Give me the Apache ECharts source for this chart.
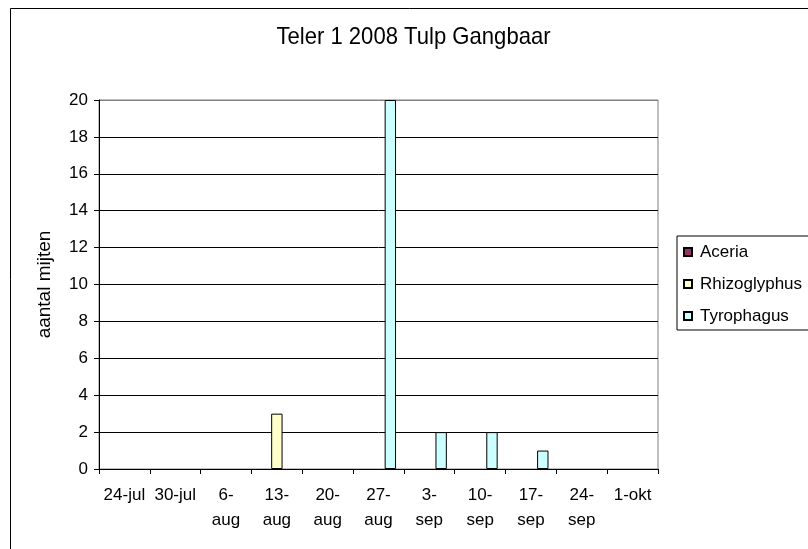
<!DOCTYPE html>
<html>
<head>
<meta charset="utf-8">
<script src="https://cdn.jsdelivr.net/npm/echarts@6/dist/echarts.min.js"></script>
<style>
html,body{margin:0;padding:0;background:#fff;}
#chart{width:808px;height:549px;}
</style>
</head>
<body>
<div id="chart"></div>
<script>
var titleText = 'Teler 1 2008 Tulp Gangbaar';
var yAxisName = 'aantal mijten';
var categories = ['24-jul','30-jul','6-\naug','13-\naug','20-\naug','27-\naug','3-\nsep','10-\nsep','17-\nsep','24-\nsep','1-okt'];
var seriesNames = ['Aceria','Rhizoglyphus','Tyrophagus'];
var aceria = [0,0,0,0,0,0,0,0,0,0,0];
var rhizoglyphus = [0,0,0,3,0,0,0,0,0,0,0];
var tyrophagus = [0,0,0,0,0,20,2,2,1,0,0];
var seriesColors = ['#993366','#FFFFCC','#CCFFFF'];
var yMin = 0, yMax = 20, yInterval = 2;

var chart = echarts.init(document.getElementById('chart'), null, {renderer:'canvas'});
var font = 'Liberation Sans, Arial, sans-serif';
var dataSets = [aceria, rhizoglyphus, tyrophagus];
var splitColors = [];
for (var v = yMin; v <= yMax; v += yInterval) splitColors.push(v === yMax ? '#808080' : '#000000');

chart.setOption({
  animation: false,
  backgroundColor: '#fff',
  graphic: [{
    type: 'rect', left: 8, top: 6, silent: true,
    shape: {x: 0, y: 0, width: 1200, height: 1200},
    style: {fill: 'none', stroke: '#000', lineWidth: 1}
  }, {
    type: 'text', x: 413.5, y: 37.5, scaleX: 0.92, scaleY: 1, silent: true,
    style: {
      text: titleText, fill: '#000', align: 'center', verticalAlign: 'middle',
      font: 'normal 24px "Liberation Sans", Arial, sans-serif'
    }
  }],
  legend: {
    orient: 'vertical', left: 677, top: 236,
    padding: [6, 80, 4, 6],
    itemWidth: 8, itemHeight: 8, itemGap: 12,
    icon: 'rect',
    borderColor: '#000', borderWidth: 1,
    textStyle: {fontFamily: font, fontSize: 17, color: '#000', lineHeight: 20, padding: [0,0,0,3]},
    data: seriesNames
  },
  grid: {left: 99, right: 150, top: 100, bottom: 80, show: true, borderColor: '#808080', borderWidth: 1, backgroundColor: 'transparent'},
  xAxis: {
    type: 'category', data: categories,
    axisLine: {lineStyle: {color: '#000', width: 1}},
    axisTick: {show: true, length: 5, lineStyle: {color: '#000'}},
    axisLabel: {fontFamily: font, fontSize: 17, color: '#000', margin: 14, lineHeight: 25, interval: 0}
  },
  yAxis: {
    type: 'value', min: yMin, max: yMax, interval: yInterval,
    name: yAxisName, nameLocation: 'middle', nameGap: 45,
    nameTextStyle: {fontFamily: font, fontSize: 19, color: '#000'},
    axisLine: {show: true, lineStyle: {color: '#000', width: 1}},
    axisTick: {show: true, length: 5, lineStyle: {color: '#000'}},
    axisLabel: {fontFamily: font, fontSize: 17, color: '#000', margin: 11},
    splitLine: {show: true, lineStyle: {color: splitColors, width: 1}}
  },
  series: seriesNames.map(function (n, i) {
    return {
      name: n, type: 'bar',
      data: dataSets[i].map(function (val) {
        return val === 0 ? {value: val, itemStyle: {borderWidth: 0}} : val;
      }),
      barGap: '4%', barCategoryGap: '31%',
      itemStyle: {color: seriesColors[i], borderColor: '#000', borderWidth: 1}
    };
  })
});
</script>
</body>
</html>
